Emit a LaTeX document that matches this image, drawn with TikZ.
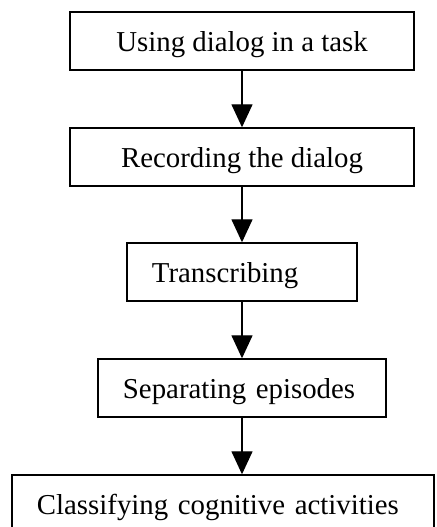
\documentclass[tikz,border=0pt]{standalone}
\usepackage{fontspec}
\setmainfont{Liberation Serif}
\usetikzlibrary{arrows.meta}

\begin{document}
\begin{tikzpicture}[x=0.025cm, y=-0.025cm,
  box/.style={draw, line width=1pt, minimum height=1.45cm, inner sep=0pt,
    font=\fontsize{20.5}{24}\selectfont, text height=15pt, text depth=0pt},
  leftbox/.style={box, inner xsep=0.625cm, align=left},
  arr/.style={line width=1pt, -{Triangle[width=0.525cm, length=0.575cm]}}]

%% page
\useasboundingbox (0,0) rectangle (436,527);
\clip (0,0) rectangle (436,527);

%% steps
\node[box, minimum width=8.6cm] (use) at (242,41) {Using dialog in a task};
\node[box, minimum width=8.6cm] (rec) at (242,157) {Recording the dialog};
\node[leftbox, text width=4.5cm] (tra) at (242,272) {Transcribing};
\node[leftbox, text width=5.95cm] (sep) at (242,388) {Separating episodes};
\node[leftbox, text width=9.3cm] (cla) at (223,504) {Classifying cognitive activities};

%% arrows
\draw[arr] (use) -- (rec);
\draw[arr] (rec) -- (tra);
\draw[arr] (tra) -- (sep);
\draw[arr] (sep.south) -- (sep.south |- cla.north);
\end{tikzpicture}
\end{document}
